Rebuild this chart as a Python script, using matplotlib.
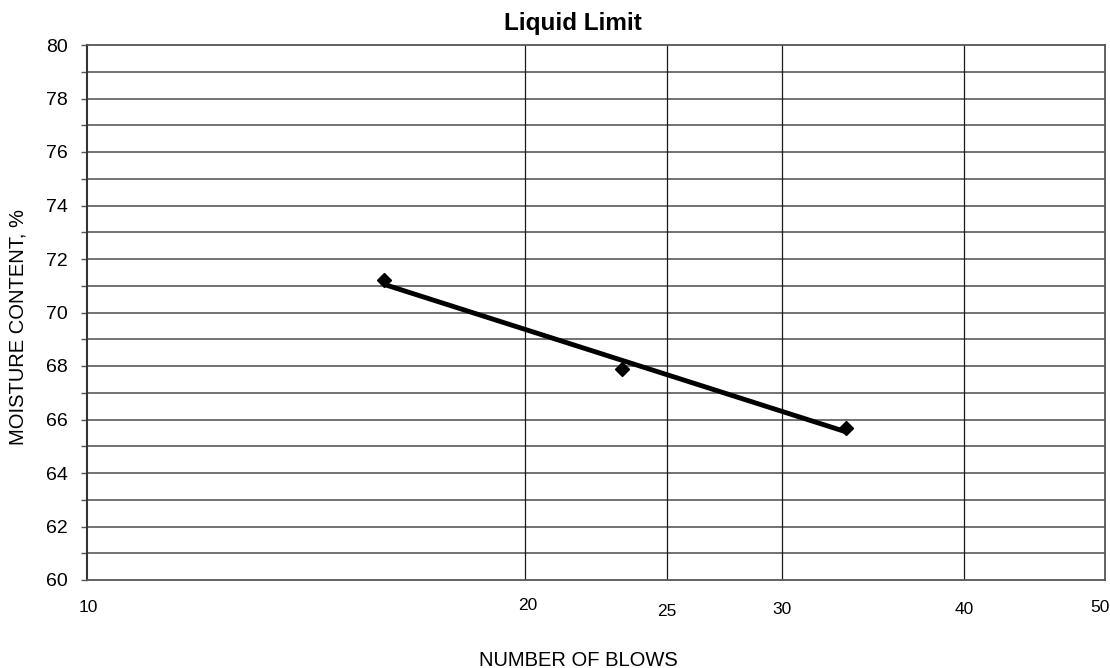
import numpy as np
import matplotlib.pyplot as plt
import matplotlib.transforms as mtransforms
from matplotlib.ticker import FixedLocator, MultipleLocator, NullFormatter

plt.rcParams['font.family'] = ['Liberation Sans', 'DejaVu Sans']

# 数据
blows = [16, 23.3, 33.2]
moisture = [71.2, 67.9, 65.7]
xticks = [10, 20, 25, 30, 40, 50]
vlines = [20, 25, 30, 40]

W, H = 1110, 668
fig = plt.figure(figsize=(W / 100, H / 100), dpi=100)
ax = fig.add_axes([87 / W, 1 - 580 / H, (1105 - 87) / W, (580 - 45) / H])

ax.set_xscale('log')
ax.set_xlim(10, 50)
ax.set_ylim(60, 80)

# 水平网格：每 1 一条
for yv in np.arange(61, 80, 1):
    ax.axhline(yv, color='#5a5a5a', lw=1.2, zorder=1)
# 竖线
for xv in vlines:
    ax.axvline(xv, color='#1a1a1a', lw=0.9, zorder=1)

# 趋势线（对数拟合）
coef = np.polyfit(np.log10(blows), moisture, 1)
xs = np.array([blows[0], blows[-1]])
ax.plot(xs, coef[0] * np.log10(xs) + coef[1], color='black', lw=3.5,
        solid_capstyle='butt', zorder=3)
ax.plot(blows, moisture, linestyle='none', marker='D', color='black',
        markersize=7, zorder=4)

# x 轴刻度标签（扫描件里上下有点错位）
ax.xaxis.set_major_locator(FixedLocator(xticks))
ax.xaxis.set_minor_locator(FixedLocator([]))
ax.xaxis.set_major_formatter(NullFormatter())
ax.xaxis.set_minor_formatter(NullFormatter())
ax.tick_params(axis='x', which='both', length=0)
label_y = [607, 605, 611, 610, 610, 607]   # 标签中心的像素行
label_dx = [1, 2, 0, 0, 0, -5]
for t, py, dx in zip(xticks, label_y, label_dx):
    tr = ax.get_xaxis_transform() + mtransforms.ScaledTranslation(
        dx / 100, -(py - 580) / 100, fig.dpi_scale_trans)
    ax.text(t, 0, str(t), transform=tr, ha='center', va='center',
            fontsize=12.5)

# y 轴
ax.yaxis.set_major_locator(MultipleLocator(2))
ax.yaxis.set_minor_locator(MultipleLocator(1))
ax.tick_params(axis='y', which='both', direction='out', length=4,
               width=1, color='#555555', labelsize=14, pad=10)

for side in ['top', 'right', 'bottom']:
    ax.spines[side].set_color('#555555')
    ax.spines[side].set_linewidth(1.3)
ax.spines['left'].set_color('#333333')
ax.spines['left'].set_linewidth(1.5)

fig.text(573 / W, 1 - 30 / H, 'Liquid Limit', fontsize=17.5,
         fontweight='bold', ha='center', va='baseline')
fig.text(578 / W, 1 - 666 / H, 'NUMBER OF BLOWS', fontsize=14.5,
         ha='center', va='baseline')
fig.text(18 / W, 1 - 327 / H, 'MOISTURE CONTENT, %', fontsize=14.5,
         rotation=90, ha='center', va='center')

fig.savefig('out.png', dpi=100)
